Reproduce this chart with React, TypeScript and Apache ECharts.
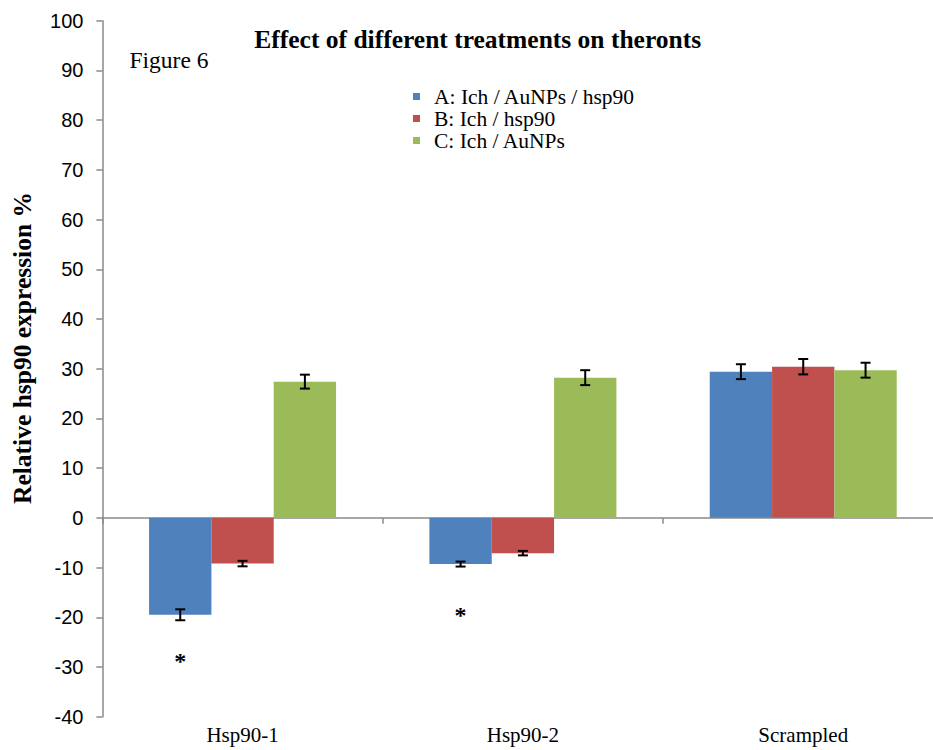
import React, { useEffect, useRef } from "react";
import * as echarts from "echarts";

const categories = ["Hsp90-1", "Hsp90-2", "Scrampled"];
const seriesNames = ["A: Ich / AuNPs / hsp90", "B: Ich / hsp90", "C: Ich / AuNPs"];
const seriesColors = ["#4F81BD", "#C0504D", "#9BBB59"];
const valuesA = [-19.5, -9.3, 29.4];
const valuesB = [-9.2, -7.1, 30.4];
const valuesC = [27.4, 28.2, 29.7];
const errorsA = [1.1, 0.5, 1.5];
const errorsB = [0.55, 0.45, 1.55];
const errorsC = [1.4, 1.5, 1.5];
const starsA = [-28.1, -18.9, null];
const yTicks = { min: -40, max: 100, interval: 10 };

const SERIF = '"Liberation Serif", "Times New Roman", serif';
const SANS = '"Liberation Sans", Arial, sans-serif';
const GAP = 0.333;

export default function App() {
  const ref = useRef<HTMLDivElement>(null);
  useEffect(() => {
    if (!ref.current) return;
    document.body.style.overflow = "hidden";
    const chart = echarts.init(ref.current, null, { renderer: "svg" });
    const values = [valuesA, valuesB, valuesC];
    const errors = [errorsA, errorsB, errorsC];
    const errData: number[][] = [];
    values.forEach((vals, s) =>
      vals.forEach((v, i) => errData.push([i, v, errors[s][i], s]))
    );
    const starData: any[] = [];
    starsA.forEach((v, i) => {
      if (v !== null) starData.push([i, v, 0]);
    });
    const barOffset = (api: any, cat: number, s: number) => {
      const band = api.size([1, 0])[0];
      const bw = (band * (1 - GAP)) / 3;
      return api.coord([cat, 0])[0] + (s - 1) * bw;
    };
    const option: any = {
      animation: false,
      backgroundColor: "#fff",
      grid: { left: 102.4, top: 20.7, width: 841, height: 696, containLabel: false },
      legend: {
        data: seriesNames,
        orient: "vertical",
        left: 413,
        top: 85.5,
        padding: 0,
        itemGap: 0,
        itemWidth: 7,
        itemHeight: 7,
        icon: "rect",
        textStyle: {
          fontFamily: SERIF,
          fontSize: 21.5,
          lineHeight: 21.7,
          color: "#000",
          padding: [0, 0, 0, 9],
        },
      },
      xAxis: [
        {
          type: "category",
          data: categories,
          axisLine: { onZero: true, lineStyle: { color: "#8a8a8a", width: 1.5 } },
          axisTick: { show: true, length: 6, lineStyle: { color: "#8a8a8a", width: 1.5 } },
          axisLabel: { show: false },
          splitLine: { show: false },
        },
        {
          type: "category",
          data: categories,
          position: "bottom",
          axisLine: { show: false, onZero: false },
          axisTick: { show: false },
          axisLabel: {
            show: true,
            margin: 8,
            fontFamily: SERIF,
            fontSize: 21,
            color: "#000",
          },
          splitLine: { show: false },
        },
      ],
      yAxis: {
        type: "value",
        min: yTicks.min,
        max: yTicks.max,
        interval: yTicks.interval,
        axisLine: { show: true, lineStyle: { color: "#8a8a8a", width: 1.5 } },
        axisTick: { show: true, length: 6, lineStyle: { color: "#8a8a8a", width: 1.5 } },
        axisLabel: { margin: 19, fontFamily: SANS, fontSize: 20, color: "#000" },
        splitLine: { show: false },
      },
      series: [
        ...values.map((vals, s) => ({
          name: seriesNames[s],
          type: "bar",
          data: vals,
          barGap: "0%",
          barCategoryGap: "33.3%",
          itemStyle: { color: seriesColors[s] },
          xAxisIndex: 0,
        })),
        {
          type: "custom",
          xAxisIndex: 0,
          data: errData,
          encode: { x: 0, y: 1 },
          itemStyle: { color: "#000" },
          z: 10,
          renderItem: (params: any, api: any) => {
            const cat = api.value(0);
            const v = api.value(1);
            const e = api.value(2);
            const s = api.value(3);
            const cx = barOffset(api, cat, s);
            const yt = api.coord([cat, v + e])[1];
            const yb = api.coord([cat, v - e])[1];
            const st = { stroke: "#000", lineWidth: 2 };
            const hw = 5;
            return {
              type: "group",
              children: [
                { type: "line", shape: { x1: cx, y1: yt, x2: cx, y2: yb }, style: st },
                { type: "line", shape: { x1: cx - hw, y1: yt, x2: cx + hw, y2: yt }, style: st },
                { type: "line", shape: { x1: cx - hw, y1: yb, x2: cx + hw, y2: yb }, style: st },
              ],
            };
          },
        },
        {
          type: "custom",
          xAxisIndex: 0,
          data: starData,
          encode: { x: 0, y: 1 },
          itemStyle: { color: "#000" },
          z: 10,
          renderItem: (params: any, api: any) => {
            const cat = api.value(0);
            const v = api.value(1);
            const s = api.value(2);
            const cx = barOffset(api, cat, s);
            const y = api.coord([cat, v])[1];
            return {
              type: "text",
              x: cx,
              y: y + 3,
              style: {
                text: "*",
                fontFamily: SERIF,
                fontWeight: "bold",
                fontSize: 24,
                fill: "#000",
                align: "center",
                verticalAlign: "middle",
              },
            };
          },
        },
      ],
      graphic: [
        {
          type: "text",
          x: 477.7,
          y: 39.5,
          style: {
            text: "Effect of different treatments on theronts",
            fontFamily: SERIF,
            fontWeight: "bold",
            fontSize: 25.5,
            fill: "#000",
            align: "center",
            verticalAlign: "middle",
          },
        },
        {
          type: "text",
          x: 129.5,
          y: 60,
          style: {
            text: "Figure 6",
            fontFamily: SERIF,
            fontSize: 23.5,
            fill: "#000",
            align: "left",
            verticalAlign: "middle",
          },
        },
        {
          type: "text",
          x: 22,
          y: 348,
          rotation: Math.PI / 2,
          style: {
            text: "Relative hsp90 expression %",
            fontFamily: SERIF,
            fontWeight: "bold",
            fontSize: 25.5,
            fill: "#000",
            align: "center",
            verticalAlign: "middle",
          },
        },
      ],
    };
    chart.setOption(option);
    return () => chart.dispose();
  }, []);
  return (
    <div
      ref={ref}
      style={{ position: "fixed", left: 0, top: 0, width: 960, height: 750, background: "#fff" }}
    />
  );
}
